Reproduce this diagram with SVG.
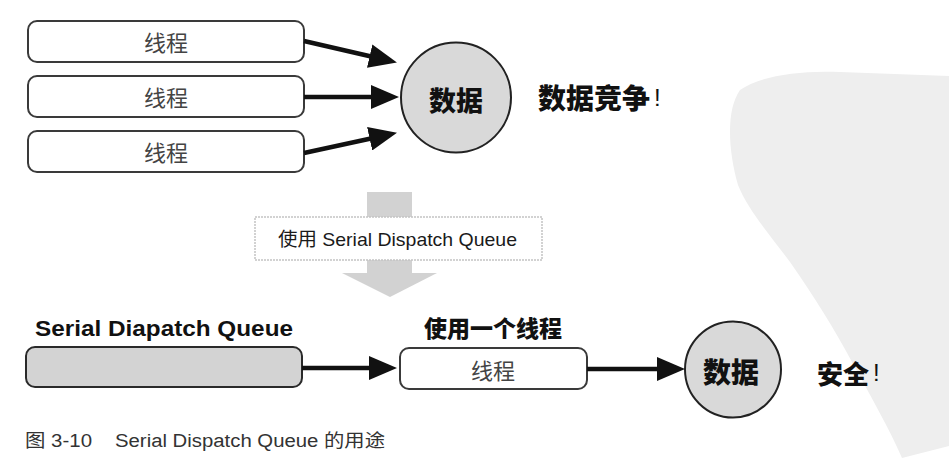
<svg xmlns="http://www.w3.org/2000/svg" width="949" height="468" viewBox="0 0 949 468">
  <style>
    .thread { fill: #ffffff; stroke: #3a3a3a; stroke-width: 2; }
    .queue { fill: #d3d3d3; stroke: #2a2a2a; stroke-width: 2; }
    .data { fill: #d9d9d9; stroke: #222222; stroke-width: 2; }
    .tt { font-family: "Noto Sans CJK SC", sans-serif; font-size: 22px; fill: #444444; text-anchor: middle; dominant-baseline: central; }
    .bold { font-family: "Noto Sans CJK SC", sans-serif; font-weight: 900; fill: #111111; dominant-baseline: central; }
    .latin { font-family: "Liberation Sans", "Noto Sans CJK SC", sans-serif; }
    .conn { stroke: #111111; stroke-width: 4.5; fill: none; marker-end: url(#ah); }
  </style>
  <defs>
    <marker id="ah" markerUnits="userSpaceOnUse" markerWidth="28" markerHeight="24" refX="6" refY="12" orient="auto">
      <path d="M0,0 L28,12 L0,24 Z" fill="#111111"/>
    </marker>
  </defs>
  <rect width="949" height="468" fill="#ffffff"/>

  <!-- watermark blob -->
  <path d="M740,90 C760,76 800,70 840,72 L949,76 L949,446 L902,458 C890,430 870,395 852,362 C835,330 815,298 790,262 C770,235 748,210 738,185 C728,150 726,110 740,90 Z" fill="#eeeeee"/>

  <!-- top threads -->
  <g id="thread1">
    <rect class="thread" x="28" y="21" width="276" height="41" rx="9"/>
    <text class="tt" x="166" y="41">线程</text>
  </g>
  <g id="thread2">
    <rect class="thread" x="28" y="76" width="276" height="41" rx="9"/>
    <text class="tt" x="166" y="96">线程</text>
  </g>
  <g id="thread3">
    <rect class="thread" x="28" y="131" width="276" height="41" rx="9"/>
    <text class="tt" x="166" y="151">线程</text>
  </g>

  <g id="data1">
    <circle class="data" cx="456" cy="97.5" r="55"/>
    <text class="bold" x="456" y="99" font-size="27" text-anchor="middle">数据</text>
  </g>
  <g id="race">
    <text class="bold" x="538" y="97" font-size="28">数据竞争<tspan class="latin" font-weight="400" font-size="24" dx="4">!</tspan></text>
  </g>

  <!-- middle transition arrow -->
  <g id="transition">
    <rect x="367" y="192" width="45" height="82" fill="#d2d2d2"/>
    <path d="M342,273 L437,273 L390,297 Z" fill="#d2d2d2"/>
    <rect x="255" y="217" width="287" height="43" fill="#ffffff" stroke="#c4c4c4" stroke-width="1.5" stroke-dasharray="2 1"/>
    <text class="latin" x="278" y="246" font-size="19" fill="#1a1a1a" textLength="239" lengthAdjust="spacingAndGlyphs">使用 Serial Dispatch Queue</text>
  </g>

  <!-- bottom -->
  <g id="queue">
    <text class="latin" x="35" y="336" font-size="22" font-weight="700" fill="#111111" textLength="258" lengthAdjust="spacingAndGlyphs">Serial Diapatch Queue</text>
    <rect class="queue" x="26" y="347" width="276" height="40" rx="9"/>
  </g>
  <g id="thread4">
    <text class="bold" x="493" y="327" font-size="23" text-anchor="middle">使用一个线程</text>
    <rect class="thread" x="400" y="348" width="187" height="41" rx="9"/>
    <text class="tt" x="493" y="369" font-size="23">线程</text>
  </g>
  <g id="data2">
    <circle class="data" cx="733" cy="369.5" r="48"/>
    <text class="bold" x="731" y="371" font-size="28" text-anchor="middle">数据</text>
  </g>
  <g id="safe">
    <text class="bold" x="817" y="372" font-size="26">安全<tspan class="latin" font-weight="400" font-size="24" dx="4">!</tspan></text>
  </g>

  <g id="connectors">
    <line class="conn" x1="304" y1="41" x2="375.5" y2="57.5"/>
    <line class="conn" x1="304" y1="97" x2="377" y2="97"/>
    <line class="conn" x1="304" y1="153" x2="375.5" y2="137.5"/>
    <line class="conn" x1="302" y1="368" x2="375" y2="368"/>
    <line class="conn" x1="587" y1="369" x2="663" y2="369"/>
  </g>

  <g id="caption">
    <text class="latin" x="25" y="447" font-size="18" fill="#333333" textLength="67" lengthAdjust="spacingAndGlyphs">图 3-10</text>
    <text class="latin" x="115" y="447" font-size="18" fill="#333333" textLength="270" lengthAdjust="spacingAndGlyphs">Serial Dispatch Queue 的用途</text>
  </g>
</svg>
